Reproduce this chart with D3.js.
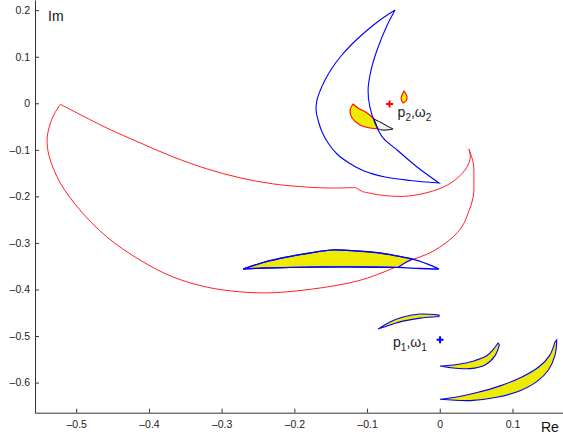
<!DOCTYPE html>
<html>
<head>
<meta charset="utf-8">
<script src="https://cdn.jsdelivr.net/npm/d3@7"></script>
<style>
  body { margin: 0; background: #fff; }
  text { font-family: "Liberation Sans", Arial, sans-serif; }
</style>
</head>
<body>
<svg id="chart" width="563" height="438"></svg>
<script>
// tick values
var xTicks = [-0.5, -0.4, -0.3, -0.2, -0.1, 0, 0.1];
var yTicks = [0.2, 0.1, 0, -0.1, -0.2, -0.3, -0.4, -0.5, -0.6];

// big red boundary curve, in pieces between its corners (Re, Im)
var redTop = [
  [-0.522, -0.002], [-0.458, -0.053], [-0.412, -0.085], [-0.367, -0.115],
  [-0.320, -0.141], [-0.275, -0.160], [-0.230, -0.173], [-0.183, -0.180],
  [-0.151, -0.182], [-0.116, -0.181]
];
var redNotch = [[-0.116, -0.181], [-0.106, -0.190]];
var redHook = [
  [-0.106, -0.190], [-0.082, -0.197], [-0.050, -0.200], [-0.023, -0.194],
  [0.005, -0.180], [0.024, -0.161], [0.037, -0.138], [0.042, -0.116], [0.040, -0.098]
];
var redLower = [
  [0.040, -0.098], [0.046, -0.128], [0.047, -0.165], [0.046, -0.201],
  [0.039, -0.236], [0.031, -0.264], [0.017, -0.289], [0.000, -0.309],
  [-0.017, -0.324], [-0.038, -0.336], [-0.061, -0.352], [-0.086, -0.368],
  [-0.114, -0.382], [-0.161, -0.396], [-0.229, -0.407], [-0.275, -0.405],
  [-0.320, -0.395], [-0.367, -0.373], [-0.412, -0.337], [-0.458, -0.287],
  [-0.495, -0.229], [-0.522, -0.171], [-0.537, -0.115], [-0.540, -0.075],
  [-0.533, -0.032], [-0.522, -0.002]
];

// blue crescent (unfilled)
var blueOuter = [
  [-0.0615, 0.2004], [-0.0821, 0.1789], [-0.1027, 0.1532], [-0.1206, 0.1274],
  [-0.1358, 0.1016], [-0.1481, 0.0758], [-0.1578, 0.0500], [-0.1647, 0.0264],
  [-0.1688, 0.0071], [-0.1702, -0.0144], [-0.1674, -0.0359], [-0.1619, -0.0617],
  [-0.1536, -0.0853], [-0.1413, -0.1089], [-0.1248, -0.1282], [-0.1041, -0.1454],
  [-0.0752, -0.1583], [-0.0409, -0.1658], [-0.0010, -0.1712]
];
var blueInner = [
  [-0.0010, -0.1712], [-0.0312, -0.1368], [-0.0587, -0.1003], [-0.0780, -0.0745],
  [-0.0890, -0.0430], [-0.0962, -0.0079], [-0.0986, 0.0286], [-0.0945, 0.0715],
  [-0.0862, 0.1145], [-0.0735, 0.1639], [-0.0615, 0.2004]
];

// yellow leaf with red outline near p2
var redLeafTop = [
  [-0.1193, -0.0015], [-0.1124, -0.0101], [-0.1000, -0.0208], [-0.0917, -0.0316],
  [-0.0862, -0.0423], [-0.0835, -0.0552]
];
var redLeafBottom = [
  [-0.0835, -0.0552], [-0.0959, -0.0531], [-0.1096, -0.0466],
  [-0.1206, -0.0316], [-0.1234, -0.0144], [-0.1193, -0.0015]
];
var flameRight = [[-0.0491, 0.0264], [-0.0450, 0.0135], [-0.0464, 0.0049], [-0.0505, 0.0006]];
var flameLeft = [[-0.0505, 0.0006], [-0.0532, 0.0092], [-0.0519, 0.0178], [-0.0491, 0.0264]];
var blackOuter = [[-0.0905, -0.0338], [-0.0794, -0.0425], [-0.0711, -0.0500], [-0.0642, -0.0552]];
var blackInner = [[-0.0642, -0.0552], [-0.0711, -0.0570], [-0.0794, -0.0574], [-0.0850, -0.0550]];

// long leaf around Im = -0.34
var midUpper = [
  [-0.2706, -0.3560], [-0.2403, -0.3409], [-0.2100, -0.3302], [-0.1784, -0.3216],
  [-0.1468, -0.3151], [-0.1138, -0.3173], [-0.0821, -0.3216], [-0.0587, -0.3280],
  [-0.0381, -0.3345], [-0.0175, -0.3452], [-0.0010, -0.3560]
];
var midLower = [
  [-0.0010, -0.3560], [-0.0271, -0.3549], [-0.0574, -0.3527], [-0.1096, -0.3517],
  [-0.1646, -0.3517], [-0.2059, -0.3527], [-0.2403, -0.3538], [-0.2706, -0.3560]
];
var midFillUpper = midUpper.slice(0, 9);
var midFillCut = [[-0.0381, -0.3345], [-0.0480, -0.3430], [-0.0574, -0.3527]];
var midFillLower = midLower.slice(2);

// crescents around p1
var crescentA = [
  [[-0.0849, -0.4851], [-0.0684, -0.4700], [-0.0505, -0.4593], [-0.0271, -0.4528], [-0.0010, -0.4550]],
  [[-0.0010, -0.4550], [-0.0010, -0.4580]],
  [[-0.0010, -0.4580], [-0.0271, -0.4615], [-0.0505, -0.4680], [-0.0684, -0.4763], [-0.0849, -0.4851]]
];
var crescentB = [
  [[0.0004, -0.5643], [0.0142, -0.5679], [0.0417, -0.5700], [0.0623, -0.5620], [0.0761, -0.5420], [0.0820, -0.5192]],
  [[0.0820, -0.5192], [0.0802, -0.5149]],
  [[0.0802, -0.5149], [0.0733, -0.5290], [0.0646, -0.5425], [0.0458, -0.5540], [0.0234, -0.5610], [0.0004, -0.5643]]
];
var crescentC = [
  [[0.0004, -0.6359], [0.0417, -0.6387], [0.0784, -0.6316], [0.1104, -0.6173], [0.1334, -0.5979], [0.1495, -0.5729], [0.1586, -0.5407], [0.1609, -0.5085]],
  [[0.1609, -0.5085], [0.1586, -0.5121]],
  [[0.1586, -0.5121], [0.1510, -0.5420], [0.1365, -0.5660], [0.1130, -0.5880], [0.0850, -0.6060], [0.0500, -0.6220], [0.0234, -0.6310], [0.0004, -0.6359]]
];

// poles
var poles = [
  { name: "p", sub: "2", w: "\u03c9", re: -0.069, im: -0.0015, color: "red", dx: 8, dy: 13 },
  { name: "p", sub: "1", w: "\u03c9", re: 0.0004, im: -0.508, color: "blue", dx: -47, dy: 7 }
];

var svg = d3.select("#chart");

var x = d3.scaleLinear().domain([-0.5567, 0.1695]).range([35, 563]);
var y = d3.scaleLinear().domain([-0.6647, 0.2219]).range([412.7, 0]);

var line = d3.line()
  .x((d) => x(d[0]))
  .y((d) => y(d[1]))
  .curve(d3.curveCatmullRom.alpha(0.5));

// join smooth pieces into one outline, keeping the corners sharp
function outline(pieces, close) {
  var d = pieces.map((p, i) => (i ? line(p).replace(/^M/, "L") : line(p))).join("");
  return close ? d + "Z" : d;
}

var yellow = "#eeea00";

// red boundary
svg.append("path")
  .attr("d", outline([redTop, redNotch, redHook, redLower], true))
  .style("fill", "none")
  .style("stroke", "#ff2020")
  .style("stroke-width", 1);

// red-outlined yellow pieces
svg.selectAll(".redleaf")
  .data([[redLeafTop, redLeafBottom], [flameRight, flameLeft]])
  .enter()
  .append("path")
  .attr("class", "redleaf")
  .attr("d", (d) => outline(d, true))
  .style("fill", yellow)
  .style("stroke", "#ff0000")
  .style("stroke-width", 1.1);

svg.append("path")
  .attr("d", outline([blackOuter, blackInner], true))
  .style("fill", "#f2f2f2")
  .style("stroke", "#000")
  .style("stroke-width", 1);

// blue crescent
svg.append("path")
  .attr("d", outline([blueOuter, blueInner], false))
  .style("fill", "none")
  .style("stroke", "#0000ff")
  .style("stroke-width", 1.1);

// long leaf: yellow part then outline
svg.append("path")
  .attr("d", outline([midFillUpper, midFillCut, midFillLower], true))
  .style("fill", yellow)
  .style("stroke", "#0000ff")
  .style("stroke-width", 1.1);
svg.append("path")
  .attr("d", outline([midUpper, midLower], false))
  .style("fill", "none")
  .style("stroke", "#0000ff")
  .style("stroke-width", 1.3);

// yellow crescents
svg.selectAll(".crescent")
  .data([crescentA, crescentB, crescentC])
  .enter()
  .append("path")
  .attr("class", "crescent")
  .attr("d", (d) => outline(d, true))
  .style("fill", yellow)
  .style("stroke", "#0000ff")
  .style("stroke-width", 1.1);

// pole markers
var poleG = svg.selectAll(".pole")
  .data(poles)
  .enter()
  .append("g")
  .attr("class", "pole")
  .attr("transform", (d) => `translate(${x(d.re)},${y(d.im)})`);

poleG.append("path")
  .attr("d", "M-3.5,0H3.5M0,-3.5V3.5")
  .style("stroke", (d) => d.color)
  .style("stroke-width", 2);

var label = poleG.append("text")
  .attr("x", (d) => d.dx)
  .attr("y", (d) => d.dy)
  .style("font-size", "14px")
  .style("fill", "#222");
label.append("tspan").text((d) => d.name);
label.append("tspan").attr("dy", 4).style("font-size", "10px").text((d) => d.sub);
label.append("tspan").attr("dy", -4).text((d) => "," + d.w);
label.append("tspan").attr("dy", 4).style("font-size", "10px").text((d) => d.sub);

// axes
var fmt = (d) => (d < 0 ? "\u2013" : "") + Math.abs(d);
svg.append("g")
  .attr("transform", "translate(0,412.7)")
  .call(d3.axisBottom(x).tickValues(xTicks).tickSizeInner(-4).tickSizeOuter(0).tickPadding(8).tickFormat(fmt));
svg.append("g")
  .attr("transform", "translate(35,0)")
  .call(d3.axisLeft(y).tickValues(yTicks).tickSizeInner(-4).tickSizeOuter(0).tickPadding(5).tickFormat(fmt));

svg.selectAll(".tick text")
  .style("font-family", "Liberation Sans, Arial, sans-serif")
  .style("font-size", "10.5px")
  .style("fill", "#222");
svg.selectAll(".domain, .tick line").style("stroke", "#333");

svg.append("text")
  .text("Im")
  .attr("x", 48)
  .attr("y", 21)
  .style("font-size", "14px")
  .style("fill", "#111");
svg.append("text")
  .text("Re")
  .attr("x", 541)
  .attr("y", 432)
  .style("font-size", "14px")
  .style("fill", "#111");
</script>
</body>
</html>
